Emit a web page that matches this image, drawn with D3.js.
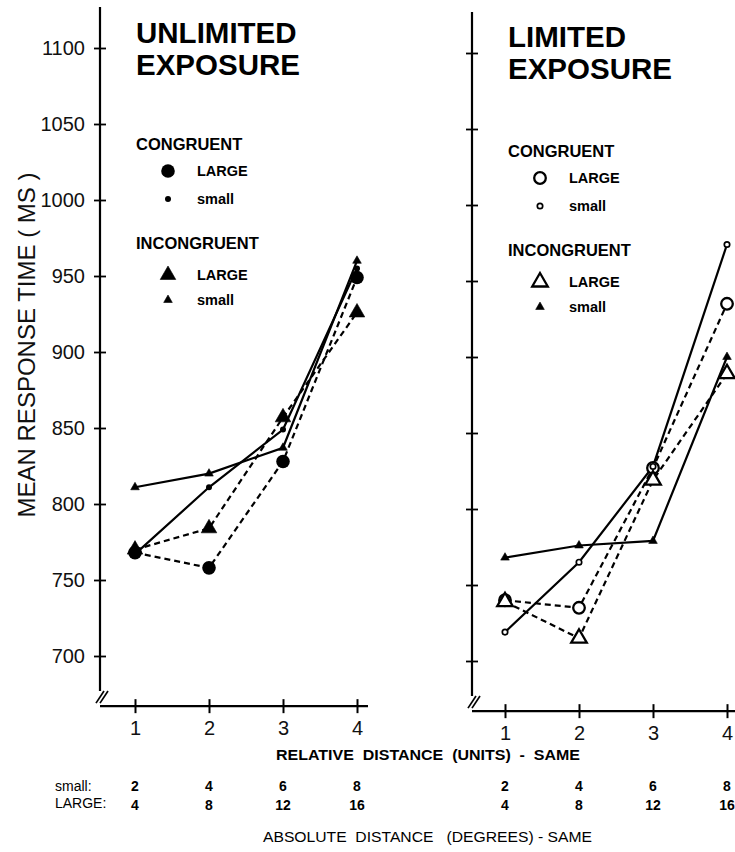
<!DOCTYPE html>
<html>
<head>
<meta charset="utf-8">
<script src="https://cdn.jsdelivr.net/npm/d3@7"></script>
<style>
  body { margin: 0; background: #fff; }
  svg { display: block; font-family: "Liberation Sans", Arial, Helvetica, sans-serif; }
  .tick text { font-size: 20px; fill: #111; }
  .bold { font-weight: bold; }
</style>
</head>
<body>
<div id="chart"></div>
<script>
// relative distance (units) - same
var distances = [1, 2, 3, 4];
var yTicks = [700, 750, 800, 850, 900, 950, 1000, 1050, 1100];
var smallDegrees = [2, 4, 6, 8];
var largeDegrees = [4, 8, 12, 16];

// mean response time (ms), unlimited exposure
var unlimCongLarge = [768, 758, 828, 949];
var unlimCongSmall = [767, 811, 849, 955];
var unlimIncLarge = [770, 784, 857, 926];
var unlimIncSmall = [811, 820, 837, 960];

// mean response time (ms), limited exposure
var limCongLarge = [740, 735, 827, 935];
var limCongSmall = [719, 765, 828, 974];
var limIncLarge = [739, 715, 819, 889];
var limIncSmall = [768, 776, 779, 900];

var W = 735, H = 852;

var svg = d3.select("#chart").append("svg")
    .attr("width", W)
    .attr("height", H);

var panels = [
  {title: ["UNLIMITED", "EXPOSURE"], open: false, axisX: 100, xr: [135, 357], yr: [656, 48],
   xEnd: 368, titleY: 43, legY: 150, labels: true,
   series: [
     {vals: unlimCongLarge, shape: "circle", big: true, dash: true},
     {vals: unlimIncLarge, shape: "tri", big: true, dash: true},
     {vals: unlimCongSmall, shape: "circle", big: false, dash: false},
     {vals: unlimIncSmall, shape: "tri", big: false, dash: false}
   ]},
  {title: ["LIMITED", "EXPOSURE"], open: true, axisX: 472, xr: [505, 727], yr: [661, 53],
   xEnd: 735, titleY: 47, legY: 157, labels: false,
   series: [
     {vals: limCongLarge, shape: "circle", big: true, dash: true},
     {vals: limIncLarge, shape: "tri", big: true, dash: true},
     {vals: limCongSmall, shape: "circle", big: false, dash: false},
     {vals: limIncSmall, shape: "tri", big: false, dash: false}
   ]}
];

function drawMarker(g, shape, big, open, cx, cy){
  if(shape=="circle"){
    var r = big ? 6.8 : 3;
    if(open) r = big ? 5.8 : 2.7;
    g.append("circle")
      .attr("cx", cx).attr("cy", cy).attr("r", r)
      .style("fill", open ? "#fff" : "#000")
      .style("stroke", "#000")
      .style("stroke-width", open ? (big ? 2.3 : 1.7) : 0);
  } else {
    var size = big ? 105 : 32;
    // small triangles stay filled in the limited panel
    var isOpen = open && big;
    g.append("path")
      .attr("d", d3.symbol().type(d3.symbolTriangle).size(size)())
      .attr("transform", "translate(" + cx + "," + cy + ")")
      .style("fill", isOpen ? "#fff" : "#000")
      .style("stroke", "#000")
      .style("stroke-width", isOpen ? 2.3 : 0.6);
  }
}

panels.forEach(function(p){
  var x = d3.scaleLinear().domain([1, 4]).range(p.xr);
  var y = d3.scaleLinear().domain([700, 1100]).range(p.yr);
  var g = svg.append("g");
  var xAxisY = y(667);   // x axis sits below the break

  // y axis line with break
  g.append("line")
    .attr("x1", p.axisX).attr("x2", p.axisX)
    .attr("y1", y(1127)).attr("y2", y(677))
    .style("stroke", "#000").style("stroke-width", 2.2);
  [0, 4].forEach(function(o){
    g.append("line")
      .attr("x1", p.axisX - 4 + o).attr("y1", y(669))
      .attr("x2", p.axisX + 4 + o).attr("y2", y(677))
      .style("stroke", "#000").style("stroke-width", 1.7);
  });

  var yAxis = d3.axisLeft(y)
      .tickValues(yTicks)
      .tickSize(6)
      .tickPadding(9)
      .tickFormat(p.labels ? d3.format("d") : "");
  var ya = g.append("g")
      .attr("transform", "translate(" + p.axisX + ",0)")
      .call(yAxis);
  ya.select(".domain").remove();
  ya.selectAll(".tick line").attr("x1", 6).style("stroke-width", 1.8);
  ya.selectAll(".tick text").style("font-family", "Liberation Sans, Arial, sans-serif");

  // x axis
  g.append("line")
    .attr("x1", p.axisX).attr("x2", p.xEnd)
    .attr("y1", xAxisY).attr("y2", xAxisY)
    .style("stroke", "#000").style("stroke-width", 2.4);
  var xAxis = d3.axisBottom(x)
      .tickValues(distances)
      .tickSize(7)
      .tickPadding(8)
      .tickFormat(d3.format("d"));
  var xa = g.append("g")
      .attr("transform", "translate(0," + xAxisY + ")")
      .call(xAxis);
  xa.select(".domain").remove();
  xa.selectAll(".tick line").attr("y1", -7).style("stroke-width", 2);
  xa.selectAll(".tick text").style("font-family", "Liberation Sans, Arial, sans-serif");

  // titles
  var tx = p.axisX + 36;
  p.title.forEach(function(t, i){
    g.append("text").attr("class", "bold")
      .attr("x", tx).attr("y", p.titleY + i * 32)
      .style("font-size", "29.5px")
      .text(t);
  });

  // legend
  var lx = tx, sx = tx + 32, labx = tx + 61;
  var items = [
    {head: "CONGRUENT", dy: 0},
    {shape: "circle", big: true, label: "LARGE", dy: 26},
    {shape: "circle", big: false, label: "small", dy: 54},
    {head: "INCONGRUENT", dy: 99},
    {shape: "tri", big: true, label: "LARGE", dy: 130},
    {shape: "tri", big: false, label: "small", dy: 155}
  ];
  items.forEach(function(it){
    if(it.head){
      g.append("text").attr("class", "bold")
        .attr("x", lx).attr("y", p.legY + it.dy)
        .style("font-size", "16.5px")
        .text(it.head);
    } else {
      drawMarker(g, it.shape, it.big, p.open, sx, p.legY + it.dy - 5);
      g.append("text").attr("class", "bold")
        .attr("x", labx).attr("y", p.legY + it.dy)
        .style("font-size", "14.5px")
        .text(it.label);
    }
  });

  // lines
  var line = d3.line()
      .x(function(d, i){ return x(distances[i]); })
      .y(function(d){ return y(d); });
  p.series.forEach(function(s){
    g.append("path")
      .datum(s.vals)
      .attr("d", line)
      .style("fill", "none")
      .style("stroke", "#000")
      .style("stroke-width", 2.2)
      .style("stroke-dasharray", s.dash ? "6,4" : null);
  });
  p.series.forEach(function(s){
    s.vals.forEach(function(v, i){
      drawMarker(g, s.shape, s.big, p.open, x(distances[i]), y(v));
    });
  });

  // absolute distance rows
  smallDegrees.forEach(function(d, i){
    g.append("text").attr("class", "bold")
      .attr("x", x(distances[i])).attr("y", 791)
      .attr("text-anchor", "middle")
      .style("font-size", "14px")
      .text(d);
  });
  largeDegrees.forEach(function(d, i){
    g.append("text").attr("class", "bold")
      .attr("x", x(distances[i])).attr("y", 810)
      .attr("text-anchor", "middle")
      .style("font-size", "14px")
      .text(d);
  });
});

// y axis title
svg.append("text")
  .attr("transform", "translate(35,345) rotate(-90)")
  .attr("text-anchor", "middle")
  .style("font-size", "24px")
  .style("fill", "#111")
  .text("MEAN RESPONSE TIME ( MS )");

svg.append("text").attr("class", "bold")
  .attr("x", 276).attr("y", 760)
  .attr("xml:space", "preserve")
  .attr("textLength", 304)
  .attr("lengthAdjust", "spacingAndGlyphs")
  .style("font-size", "14px")
  .text("RELATIVE  DISTANCE  (UNITS)  -  SAME");

svg.append("text")
  .attr("x", 55).attr("y", 791)
  .style("font-size", "14px")
  .text("small:");
svg.append("text")
  .attr("x", 55).attr("y", 808)
  .style("font-size", "14px")
  .text("LARGE:");

svg.append("text")
  .attr("x", 263).attr("y", 842)
  .attr("xml:space", "preserve")
  .attr("textLength", 329)
  .attr("lengthAdjust", "spacingAndGlyphs")
  .style("font-size", "14.5px")
  .text("ABSOLUTE  DISTANCE   (DEGREES) - SAME");
</script>
</body>
</html>
